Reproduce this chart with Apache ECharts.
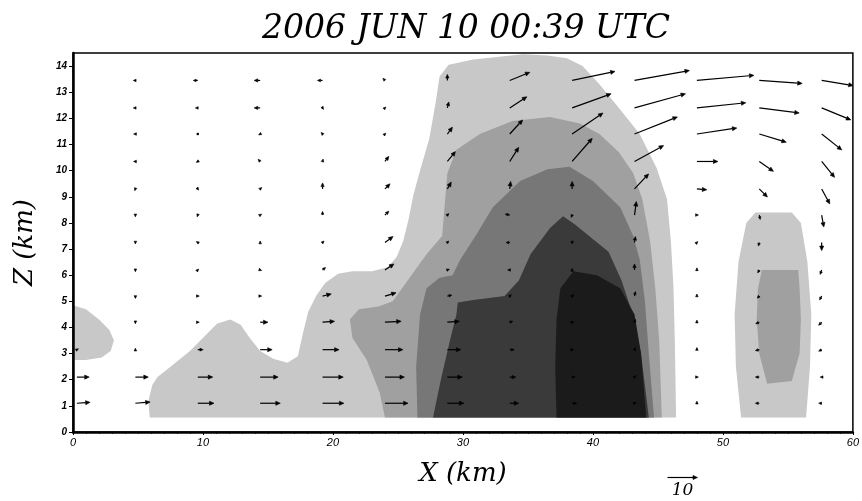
<!DOCTYPE html>
<html>
<head>
<meta charset="utf-8">
<script src="https://cdn.jsdelivr.net/npm/echarts@6/dist/echarts.min.js"></script>
<style>html,body{margin:0;padding:0;background:#fff}#c{width:862px;height:501px}</style>
</head>
<body>
<div id="c"></div>
<script>
// ---- data (km, m/s) ----
const titleText = '2006 JUN 10 00:39 UTC';
const xTicks = [0, 10, 20, 30, 40, 50, 60];
const zTicks = [0,1,2,3,4,5,6,7,8,9,10,11,12,13,14];

// contour outlines [x km, z km], drawn from lowest to highest level
const level1Main = [[5.9,0.55],[5.8,1.2],[6.1,1.8],[6.5,2.1],[7.5,2.5],[9.0,3.1],[10.2,3.7],[11.1,4.15],[12.1,4.3],[12.9,4.1],[13.6,3.6],[14.4,3.1],[15.4,2.8],[16.5,2.65],[17.3,2.9],[17.7,3.8],[18.1,4.6],[18.7,5.2],[19.4,5.7],[20.4,6.05],[21.5,6.15],[23.0,6.15],[24.2,6.3],[24.9,6.7],[25.4,7.3],[25.8,8.1],[26.2,9.1],[26.7,10.0],[27.4,11.2],[27.9,12.6],[28.2,13.6],[28.9,14.05],[30.8,14.25],[32.6,14.35],[34.6,14.45],[36.5,14.4],[38.0,14.3],[39.2,14.0],[40.5,13.3],[42.0,12.4],[43.6,11.4],[44.9,10.1],[45.7,8.9],[46.0,7.3],[46.2,5.5],[46.3,3.5],[46.4,0.55]];
const level1West = [[0,4.85],[1.0,4.7],[2.0,4.3],[2.8,3.9],[3.15,3.5],[2.9,3.1],[2.2,2.85],[1.0,2.75],[0,2.75]];
const level1East = [[51.4,0.55],[56.4,0.55],[56.7,2.5],[56.8,4.5],[56.5,6.5],[56.0,8.0],[55.3,8.4],[52.5,8.4],[51.8,8.0],[51.2,6.5],[50.9,4.5],[51.0,2.5]];
const level2Main = [[24.0,0.55],[23.6,1.5],[22.6,2.75],[21.5,3.6],[21.3,4.3],[22.0,4.7],[23.5,4.8],[24.6,5.0],[25.9,5.9],[27.2,6.8],[28.4,7.5],[28.6,8.7],[28.8,9.9],[29.5,10.8],[31.3,11.4],[33.8,11.9],[36.7,12.05],[39.0,11.8],[40.5,11.4],[42.0,10.7],[43.1,9.9],[43.8,8.9],[44.4,7.3],[44.8,5.5],[45.1,3.5],[45.3,0.55]];
const level2East = [[53.4,1.85],[55.3,1.95],[55.9,3.0],[56.0,4.3],[55.9,5.5],[55.8,6.2],[53.0,6.2],[52.7,5.5],[52.6,4.3],[52.8,3.0]];
const level3Main = [[26.5,0.55],[26.4,2.5],[26.7,4.5],[27.2,5.5],[28.2,5.9],[29.2,6.0],[29.8,6.6],[31.1,7.6],[32.3,8.6],[34.4,9.6],[36.5,10.05],[38.2,10.15],[40.0,9.6],[42.1,8.6],[43.1,7.5],[43.6,6.6],[44.0,5.0],[44.3,3.0],[44.7,0.55]];
const level4Main = [[27.7,0.55],[28.3,2.0],[29.0,3.5],[29.5,4.5],[29.6,4.95],[30.8,5.05],[33.2,5.2],[34.3,5.8],[35.2,6.8],[36.7,7.8],[37.7,8.25],[38.6,7.95],[40.2,7.3],[41.2,6.9],[42.2,5.8],[43.0,4.6],[43.7,3.0],[44.3,0.55]];
const level5Main = [[37.2,0.55],[37.1,2.5],[37.2,4.3],[37.5,5.5],[38.5,6.15],[40.3,6.0],[42.1,5.5],[43.2,4.5],[43.7,3.0],[44.1,0.55]];
const contourPolys = [level1Main, level1West, level1East, level2Main, level2East, level3Main, level4Main, level5Main];
const contourLevel = [0, 0, 0, 1, 1, 2, 3, 4];

// wind vectors on the grid
const xCols = [0.3, 4.8, 9.6, 14.4, 19.2, 24.0, 28.8, 33.6, 38.4, 43.2, 48.0, 52.8, 57.6];
const zRows = [1.1, 2.1, 3.15, 4.2, 5.2, 6.2, 7.25, 8.3, 9.3, 10.35, 11.4, 12.4, 13.45];
const uWind = [
  [4.4, 4.9, 5.4, 6.7, 7.1, 7.7, 5.5, 3.0, 1.5, 0.5, 0, -1.3, -1.0],
  [4.1, 4.3, 5.0, 6.0, 6.9, 6.5, 5.0, 2.0, 1.0, 0.5, 0.5, -1.3, -0.5],
  [0.5, 0, 1.8, 4.0, 5.5, 6.0, 4.5, 1.5, 0.5, 0.3, 0, -1.3, -1.0],
  [null, 0, 0.5, 2.6, 4.0, 5.4, 4.0, 1.0, 0.5, 0.3, 0, -1.2, -1.0],
  [null, 0, 0.5, 0.5, 2.9, 3.7, 1.5, 0.5, 0.5, 0.3, 0, -0.7, -0.7],
  [null, 0, 0.3, 0.5, 1.0, 3.0, 0.7, -0.7, 0, 0, 0, -0.5, -0.5],
  [null, 0, -0.5, 0, 0.5, 2.7, 0.5, -1.2, 0, 0.3, 0.3, -0.3, 0],
  [null, 0, -0.2, 0.5, 0, 1.3, 0.5, -1.5, -0.3, 0.6, 0.5, 0.3, 0.7],
  [null, -0.2, 0.3, 0.5, 0, 1.7, 1.3, 0.3, 0, 4.7, 3.3, 2.7, 2.7],
  [null, -0.6, -0.5, -0.7, 0.2, 1.3, 2.7, 3.0, 6.7, 9.7, 7.0, 4.7, 4.3],
  [null, -0.6, 0, -0.5, -0.5, 0.3, 1.7, 4.3, 10.3, 14.3, 13.3, 9.0, 6.7],
  [null, -0.7, -0.8, -2.0, 0.3, 0.3, 0.5, 5.7, 13.0, 17.0, 16.3, 13.3, 9.7],
  [null, -0.7, -1.5, -2.0, -1.7, -0.7, 0, 6.7, 14.3, 18.3, 19.0, 14.3, 10.5]
];
const wWind = [
  [0.3, 0.4, 0, 0, 0, 0, 0, 0, 0, 0.3, 0.7, 0, 0],
  [0, 0, 0, 0, 0, 0, 0, 0, 0, 0.5, 0, 0, 0],
  [0.3, 0.5, 0, 0, 0, 0, 0, 0, 0, 0.7, 0.7, -0.3, -0.5],
  [null, -0.5, 0, 0, 0.3, 0.3, 0.3, 0.3, 0.3, 1.0, 0.7, -0.5, -1.0],
  [null, -0.8, 0, 0, 0.7, 1.1, 0.3, 0.5, 0.5, 1.5, 0.7, -0.7, -1.3],
  [null, -0.6, 0.3, -0.2, 0.8, 2.0, 0.2, 0, 0.5, 2.0, 0.7, -1.0, -1.5],
  [null, -0.5, 0.3, 0.5, 0.5, 2.0, 0.5, 0, -0.5, 2.0, 0.3, -1.2, -2.7],
  [null, -0.6, -0.6, 0.3, 1.2, 1.3, 0.5, 0.3, -0.8, 4.5, 0, -1.5, -4.0],
  [null, -0.6, -0.4, 0.5, 2.0, 1.7, 2.3, 2.5, 2.5, 5.0, -0.3, -2.7, -5.0],
  [null, 0, -0.3, 0.7, 0.8, 1.7, 3.3, 4.7, 7.7, 5.3, 0, -3.3, -5.3],
  [null, 0, 0, -0.3, 0.5, 0.3, 2.3, 4.7, 7.0, 5.7, 2.0, -2.7, -5.3],
  [null, 0, 0, 0, -0.5, 0.3, 2.0, 3.7, 4.7, 4.7, 1.7, -1.7, -4.0],
  [null, 0, 0, 0, 0, 0.7, 2.0, 2.7, 3.0, 3.3, 1.7, -1.0, -1.7]
];
const refSpeed = 10;
const refLabel = '10';

// ---- styles ----
const levelColors = ['#c8c8c8', '#a0a0a0', '#777777', '#3a3a3a', '#1b1b1b'];
const PX_PER_MS = 3;

const contourData = contourPolys.map((p, i) => ({ value: [p[0][0], p[0][1], i] }));
const windData = [];
zRows.forEach((z, i) => {
  xCols.forEach((x, j) => {
    if (uWind[i][j] !== null) windData.push([x, z, uWind[i][j], wWind[i][j]]);
  });
});

function arrowShape(p, dx, dy) {
  const len = Math.hypot(dx, dy);
  const children = [];
  if (len < 0.3) {
    children.push({ type: 'circle', shape: { cx: p[0], cy: p[1], r: 1.3 }, style: { fill: '#000' } });
    return children;
  }
  const ux = dx / len, uy = dy / len;
  const hl = Math.min(4.5, Math.max(2.8, len * 0.6));
  const hw = hl * 0.45;
  const tip = [p[0] + dx, p[1] + dy];
  const base = [tip[0] - ux * hl, tip[1] - uy * hl];
  if (len > hl) {
    children.push({ type: 'line', shape: { x1: p[0], y1: p[1], x2: base[0], y2: base[1] }, style: { stroke: '#000', lineWidth: 1.2 } });
  }
  children.push({ type: 'polygon', shape: { points: [tip, [base[0] - uy * hw, base[1] + ux * hw], [base[0] + uy * hw, base[1] - ux * hw]] }, style: { fill: '#000', stroke: '#000', lineWidth: 0.6 } });
  return children;
}

const serif = 'DejaVu Serif';
const chart = echarts.init(document.getElementById('c'), null, { renderer: 'canvas' });
const gridLeft = 73, gridRight = 9, gridTop = 53, gridBottom = 69;

chart.setOption({
  animation: false,
  backgroundColor: '#fff',
  title: {
    text: titleText, left: 257, top: 8,
    textStyle: { fontFamily: serif, fontStyle: 'italic', fontWeight: 'normal', fontSize: 33, color: '#000' }
  },
  grid: { left: gridLeft, right: gridRight, top: gridTop, bottom: gridBottom, show: true, borderColor: '#000', borderWidth: 1.5, backgroundColor: 'transparent' },
  xAxis: {
    type: 'value', min: 0, max: 60, interval: 10, z: 10,
    name: 'X (km)', nameLocation: 'middle', nameGap: 29,
    nameTextStyle: { fontFamily: serif, fontStyle: 'italic', fontSize: 26, color: '#000' },
    axisLine: { lineStyle: { color: '#000', width: 2.5 } },
    axisTick: { show: true, length: 3, inside: false, lineStyle: { color: '#000', width: 1 } },
    minorTick: { show: true, splitNumber: 10, length: 2, lineStyle: { color: '#000', width: 0.8 } },
    axisLabel: { fontFamily: 'Liberation Sans', fontStyle: 'italic', fontSize: 11, color: '#000', margin: 5 },
    splitLine: { show: false }
  },
  yAxis: {
    type: 'value', min: 0, max: 14.5, interval: 1, z: 10,
    name: 'Z (km)', nameLocation: 'middle', nameGap: 35,
    nameTextStyle: { fontFamily: serif, fontStyle: 'italic', fontSize: 26, color: '#000' },
    axisLine: { lineStyle: { color: '#000', width: 2.5 } },
    axisTick: { show: true, length: 4, customValues: zTicks, lineStyle: { color: '#000', width: 1 } },
    axisLabel: { fontFamily: 'Liberation Sans', fontStyle: 'italic', fontWeight: 'bold', fontSize: 10, color: '#000', margin: 6, customValues: zTicks },
    splitLine: { show: false }
  },
  graphic: [{
    type: 'group', left: 665, top: 475, z: 20,
    children: arrowShape([0, 3], refSpeed * PX_PER_MS, 0).concat([{
      type: 'text', x: 15, y: 8,
      style: { text: refLabel, fontFamily: serif, fontStyle: 'italic', fontSize: 17, fill: '#000', align: 'center' }
    }])
  }],
  series: [{
    type: 'custom', name: 'reflectivity', clip: true, z: 2,
    encode: { x: 0, y: 1 },
    data: contourData,
    renderItem: function (params, api) {
      const idx = api.value(2);
      const pts = contourPolys[idx].map(p => api.coord(p));
      return { type: 'polygon', shape: { points: pts }, style: { fill: levelColors[contourLevel[idx]] } };
    }
  }, {
    type: 'custom', name: 'wind', clip: true, z: 3,
    encode: { x: 0, y: 1 },
    data: windData,
    renderItem: function (params, api) {
      const p = api.coord([api.value(0), api.value(1)]);
      const dx = api.value(2) * PX_PER_MS, dy = -api.value(3) * PX_PER_MS;
      return { type: 'group', children: arrowShape(p, dx, dy) };
    }
  }]
});
</script>
</body>
</html>
